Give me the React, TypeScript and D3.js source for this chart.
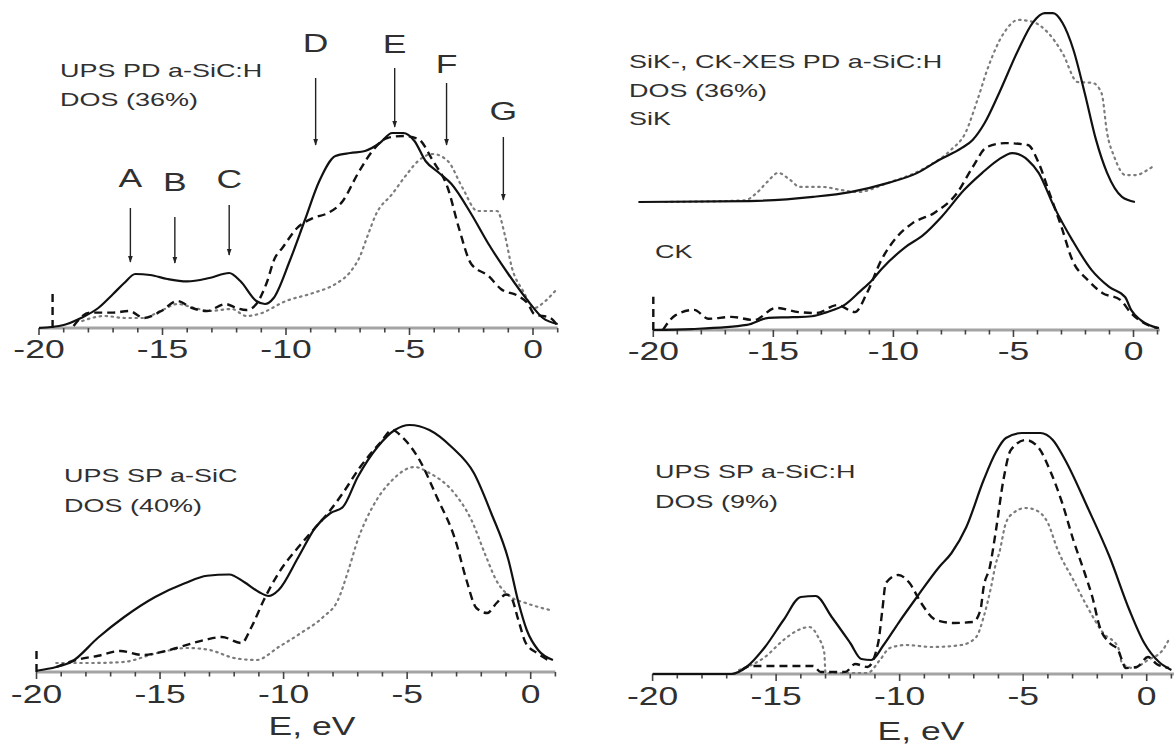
import React from 'react';
import * as d3 from 'd3';

type Pt = [number, number];

// ---------- shared axis data ----------
const tickLabels = [-20, -15, -10, -5, 0];
const minorTicks = d3.range(-20, 2, 1);

// ---------- Panel 1: UPS PD a-SiC:H ----------
const p1Solid: Pt[] = [[-20,0],[-19.0,1.5],[-18.3,5],[-17.6,10],[-17.0,17],[-16.55,22.5],[-16.1,27],[-15.5,26.5],[-14.8,24.5],[-14.0,23.3],[-13.1,25],[-12.3,27.5],[-11.85,23.5],[-11.2,13.5],[-10.85,12],[-10.5,15],[-9.85,33.5],[-9.25,53.5],[-8.65,73.5],[-8.0,86],[-7.4,87.5],[-6.8,88.5],[-6.2,92.5],[-5.7,97.5],[-5.25,97.5],[-4.8,93.5],[-4.35,83.5],[-3.8,77.5],[-3.3,72],[-2.5,57],[-1.8,42],[-1.0,27],[-0.2,13.5],[0.4,5],[1.0,2]];
const p1Dashed: Pt[] = [[-18.6,1],[-17.95,7.7],[-17.0,7.7],[-16.35,8.5],[-15.75,5],[-15.05,8.5],[-14.4,13.5],[-13.8,10],[-13.2,8.5],[-12.45,12],[-12.0,10],[-11.6,9],[-11.2,12],[-10.8,22],[-10.45,35],[-10.15,40],[-9.55,50],[-8.9,55],[-8.3,57.5],[-7.7,63.5],[-7.1,77],[-6.5,88.5],[-5.9,95],[-5.25,96],[-4.65,94.5],[-4.05,83.5],[-3.45,70],[-3.0,50],[-2.5,32],[-1.8,26],[-1.3,19.5],[-0.6,16],[-0.2,12],[0.05,7],[0.7,5],[1.0,1]];
const p1DashedSpike: Pt[] = [[-19.45,0],[-19.45,18]];
const p1Dotted: Pt[] = [[-18.25,3.5],[-17.35,6],[-16.5,5],[-15.8,5],[-15.0,9],[-14.4,12],[-13.7,10],[-13.1,8.5],[-12.2,9.5],[-11.6,6],[-11.1,7],[-10.0,13.5],[-8.9,17.5],[-8.0,22],[-7.4,28],[-7.0,36],[-6.7,46],[-6.35,57],[-5.7,67],[-5.1,77],[-4.65,83.5],[-4.05,87],[-3.45,83.5],[-2.85,70],[-2.25,58.5],[-1.45,58.5],[-1.15,47],[-0.85,30],[-0.4,18.5],[0.05,10],[0.5,13.5],[1.0,20]];
const p1Peaks = [
  { label: 'A', e: -16.3, from: 60, to: 33, text: 70.5 },
  { label: 'B', e: -14.5, from: 55.5, to: 32.5, text: 68.5 },
  { label: 'C', e: -12.3, from: 61.5, to: 36.5, text: 70 },
  { label: 'D', e: -8.8, from: 125, to: 91.5, text: 138 },
  { label: 'E', e: -5.6, from: 130, to: 100.5, text: 137.5 },
  { label: 'F', e: -3.5, from: 122.5, to: 91.5, text: 127.5 },
  { label: 'G', e: -1.2, from: 95.5, to: 64, text: 104 },
];

// ---------- Panel 2: SiK / CK XES ----------
const SIK_OFFSET = 40;
const p2SiKSolid: Pt[] = [[-20.62,0],[-16.0,0.3],[-13.35,1.6],[-11.8,3.1],[-10.25,5.9],[-9.0,9.1],[-8.1,13.1],[-7.15,16.9],[-6.7,19.4],[-6.2,24.7],[-5.6,34],[-4.8,47.5],[-4.2,56],[-3.7,59],[-3.35,59],[-2.96,56],[-2.5,47.5],[-2.03,34],[-1.56,19.4],[-1.1,9.1],[-0.48,1.6],[0.06,0]];
const p2SiKDotted: Pt[] = [[-19.5,0],[-16.2,0.5],[-15.7,2.8],[-15.25,6.3],[-14.8,9.1],[-14.3,6.9],[-13.9,4.7],[-12.95,4.7],[-12.2,3.8],[-11.5,3.1],[-10.25,5.9],[-8.7,10.6],[-7.6,16.3],[-7.0,21.6],[-6.5,31.9],[-6.05,42.2],[-5.4,52.8],[-4.8,56.9],[-4.2,56.3],[-3.55,52.8],[-2.96,46.6],[-2.33,37.5],[-1.7,37.2],[-1.33,34],[-1.1,21.6],[-0.8,14.1],[-0.33,8.4],[0.1,8.4],[0.58,10],[0.9,11.6]];
const p2CKSolid: Pt[] = [[-20,0],[-18.4,0.3],[-16.1,1.6],[-15.2,3.8],[-14.2,4],[-13.4,4.3],[-12.8,5.5],[-12.0,8],[-11.4,12],[-10.9,15.5],[-10.5,19],[-9.5,25.9],[-8.75,29.7],[-8.0,35.3],[-7.05,43.8],[-6.3,49.1],[-5.65,53.1],[-5.05,55.3],[-4.4,53.1],[-3.95,49.1],[-3.3,38.4],[-2.55,28.1],[-1.75,18.8],[-1.0,13.4],[-0.35,10.3],[-0.1,6.3],[0.3,3.1],[1.06,0.6]];
const p2CKDashed: Pt[] = [[-19.6,0],[-19.1,4.5],[-18.3,6.3],[-17.7,3.5],[-16.75,4.1],[-15.8,3.1],[-14.9,6.9],[-13.95,5.6],[-13.2,5.3],[-12.35,7.8],[-11.6,5.6],[-11.1,11.6],[-10.5,21.9],[-9.85,29.1],[-9.2,33.4],[-8.3,36.6],[-7.35,42.8],[-6.7,50.9],[-6.1,57.2],[-5.35,58.4],[-4.4,57.8],[-3.95,52.2],[-3.5,42.8],[-3.0,32.2],[-2.55,21.9],[-1.9,15.6],[-1.3,11.6],[-0.55,9.4],[-0.1,5.3],[0.36,2.5],[1.0,0.6]];
const p2CKDashedSpike: Pt[] = [[-20,0],[-20,10.4]];

// ---------- Panel 3: UPS SP a-SiC ----------
const p3Solid: Pt[] = [[-20,0.5],[-19.2,2],[-18.58,4.1],[-17.5,13.8],[-16.45,22],[-15.2,30],[-14.0,35.5],[-13.1,38.5],[-12.2,39],[-11.6,36],[-11.0,32],[-10.6,30.4],[-10.2,32.8],[-9.4,46],[-8.7,58],[-8.1,63.6],[-7.6,66],[-7.0,78],[-6.2,90],[-5.5,96.8],[-4.9,98.8],[-4.1,96.8],[-3.2,90],[-2.3,79.6],[-1.6,63.6],[-0.9,44.8],[-0.5,28],[-0.16,16.8],[0.3,8.8],[0.9,4.8]];
const p3Dashed: Pt[] = [[-19.2,2],[-18.4,4.8],[-17.5,6.5],[-16.6,8.4],[-15.7,6.8],[-14.9,8.1],[-14.2,10],[-13.2,12.8],[-12.5,14],[-11.7,11.6],[-11.3,18],[-10.8,28.8],[-10.2,39.6],[-9.4,50],[-8.8,56.8],[-8.2,63.6],[-7.6,71.6],[-6.9,82],[-6.1,91.6],[-5.6,96.8],[-5.2,94],[-4.5,84.8],[-3.8,70],[-3.05,52.8],[-2.6,36.8],[-2.2,25.6],[-1.76,23.6],[-1.38,27.6],[-1.0,31],[-0.8,30],[-0.5,20.8],[-0.2,11.6],[0.25,7.6],[0.7,4.8]];
const p3DashedSpike: Pt[] = [[-20,0],[-20,9.6]];
const p3Dotted: Pt[] = [[-19.2,3.6],[-17.7,3.6],[-16.5,4],[-15.1,7.6],[-13.9,9.6],[-13.0,8.8],[-12.0,5.6],[-11.1,4.8],[-10.2,10],[-9.3,15.6],[-8.4,22],[-7.8,28.8],[-7.4,40],[-7.0,52.8],[-6.4,66],[-5.6,76.8],[-4.7,82],[-4.1,79.6],[-3.2,72.8],[-2.4,60.8],[-1.8,46],[-1.4,36.8],[-0.8,30],[-0.2,27.6],[0.45,25.6],[0.9,24.5]];

// ---------- Panel 4: UPS SP a-SiC:H ----------
const p4Solid: Pt[] = [[-20,0],[-16.8,0],[-16.2,2.8],[-15.45,10.8],[-14.7,21.6],[-14.0,30.8],[-13.4,31.2],[-12.75,22.8],[-12.0,12.4],[-11.55,6],[-11.15,5.6],[-10.65,11.6],[-10.05,20.4],[-9.3,30.8],[-8.4,42.8],[-7.9,48.4],[-7.3,58.8],[-6.6,77.6],[-6.1,88.8],[-5.7,94.4],[-5.05,96.4],[-4.3,96.4],[-3.8,93.6],[-3.3,85.6],[-2.4,66.8],[-1.5,46.8],[-0.7,25.6],[-0.1,12.4],[0.5,4.8],[1.0,1.6]];
const p4Dashed: Pt[] = [[-16.4,1.5],[-16.05,3.2],[-13.5,3.2],[-13.2,0.8],[-12.2,0.8],[-11.8,4],[-11.3,2.8],[-10.87,12.4],[-10.7,25.6],[-10.56,36.4],[-10.05,39.6],[-9.6,36.4],[-9.13,28.4],[-8.53,21.6],[-7.8,20.4],[-7.03,20.8],[-6.73,25.6],[-6.6,34.8],[-6.35,42.8],[-6.1,57.6],[-5.8,77.6],[-5.5,89.6],[-4.9,93.6],[-4.4,90.8],[-3.87,80.4],[-3.42,68.4],[-2.97,53.6],[-2.51,40.4],[-2.2,30.8],[-1.9,18.8],[-1.5,12.4],[-1.16,9.6],[-1.0,5.6],[-0.86,2.4],[-0.4,2.8],[0.05,6.8],[0.4,4],[0.9,2.4]];
const p4Dotted: Pt[] = [[-16.5,1.6],[-15.45,6.8],[-14.7,13.6],[-14.1,17.6],[-13.65,18.8],[-13.3,14.8],[-13.05,8.4],[-13.0,0.4],[-11.3,0.4],[-10.8,5.6],[-10.4,10.4],[-9.74,11.6],[-8.7,10.8],[-7.5,11.6],[-6.9,14.8],[-6.6,22.8],[-6.3,34.8],[-6.1,44.4],[-5.97,48.4],[-5.7,60.4],[-5.4,64.4],[-4.9,66.4],[-4.5,65.6],[-4.0,60.4],[-3.6,49.6],[-2.97,37.6],[-2.4,26.8],[-1.76,16.4],[-1.16,10.8],[-1.0,4.4],[-0.55,2.4],[0.05,5.6],[0.65,9.6],[0.95,14.8]];

// ---------- layout ----------
const W = 1174, H = 745;
const FONT = 'Liberation Sans, Arial, Helvetica, sans-serif';
const TXT = '#303030';
const SX = 1.42;

interface Layout { px0: number; px1: number; base: number; top: number; axisEnd: number; labelY: number; }
const L1: Layout = { px0: 39, px1: 533, base: 328, top: 128, axisEnd: 1.0, labelY: 358 };
const L2: Layout = { px0: 653.3, px1: 1133.5, base: 330, top: 10, axisEnd: 1.1, labelY: 360 };
const L3: Layout = { px0: 36.5, px1: 530.7, base: 672, top: 422, axisEnd: 1.0, labelY: 703 };
const L4: Layout = { px0: 652.6, px1: 1146.7, base: 674, top: 424, axisEnd: 1.12, labelY: 705 };

const scales = (l: Layout) => ({
  x: d3.scaleLinear().domain([-20, 0]).range([l.px0, l.px1]),
  y: d3.scaleLinear().domain([0, 100]).range([l.base, l.top]),
});

const STYLE = {
  solid: { stroke: '#111', strokeWidth: 2.2 },
  dashed: { stroke: '#111', strokeWidth: 2.4, strokeDasharray: '8,5' },
  dotted: { stroke: '#7c7c7c', strokeWidth: 2.2, strokeDasharray: '1.5,4.5', strokeLinecap: 'round' as const },
};

function Curve({ data, sc, kind, offset = 0, linear = false }: { data: Pt[]; sc: any; kind: keyof typeof STYLE; offset?: number; linear?: boolean }) {
  const gen = d3.line<Pt>()
    .x(d => sc.x(d[0]))
    .y(d => sc.y(d[1] + offset))
    .curve(linear ? d3.curveLinear : d3.curveMonotoneX);
  return <path d={gen(data) || ''} fill="none" {...STYLE[kind]} />;
}

function Txt({ x, y, s, size = 19, anchor = 'start' }: { x: number; y: number; s: string; size?: number; anchor?: string }) {
  return (
    <text transform={`translate(${x},${y}) scale(${SX},1)`} fontSize={size} fontFamily={FONT} fill={TXT} textAnchor={anchor as any}>{s}</text>
  );
}

function Axis({ l }: { l: Layout }) {
  const { x } = scales(l);
  return (
    <g>
      <line x1={x(-20)} x2={x(l.axisEnd)} y1={l.base} y2={l.base} stroke="#a4a4a4" strokeWidth={3} />
      {minorTicks.map(t => (
        <line key={t} x1={x(t)} x2={x(t)} y1={l.base} y2={l.base + (t % 5 === 0 ? 7 : 4.5)} stroke="#444" strokeWidth={1.6} />
      ))}
      {tickLabels.map(t => (
        <Txt key={t} x={x(t)} y={l.labelY} s={String(t)} size={25} anchor="middle" />
      ))}
    </g>
  );
}

export default function App() {
  const s1 = scales(L1), s2 = scales(L2), s3 = scales(L3), s4 = scales(L4);
  return (
    <svg width={W} height={H} viewBox={`0 0 ${W} ${H}`} style={{ position: 'absolute', left: 0, top: 0, background: '#fff' }}>
      <defs>
        <marker id="ah" viewBox="0 0 10 10" refX="9" refY="5" markerWidth="5" markerHeight="7" markerUnits="strokeWidth" orient="auto">
          <path d="M0,1.5 L10,5 L0,8.5 Z" fill="#222" />
        </marker>
      </defs>
      <rect x={0} y={0} width={W} height={H} fill="#fff" />

      {/* Panel 1 */}
      <Axis l={L1} />
      <Curve data={p1Dotted} sc={s1} kind="dotted" />
      <Curve data={p1Dashed} sc={s1} kind="dashed" />
      <Curve data={p1DashedSpike} sc={s1} kind="dashed" linear />
      <Curve data={p1Solid} sc={s1} kind="solid" />
      {p1Peaks.map(p => (
        <g key={p.label}>
          <line x1={s1.x(p.e)} x2={s1.x(p.e)} y1={s1.y(p.from)} y2={s1.y(p.to)} stroke="#222" strokeWidth={1.4} markerEnd="url(#ah)" />
          <Txt x={s1.x(p.e)} y={s1.y(p.text)} s={p.label} size={25} anchor="middle" />
        </g>
      ))}
      <Txt x={60} y={77} s="UPS PD a-SiC:H" />
      <Txt x={60} y={106} s="DOS (36%)" />

      {/* Panel 2 */}
      <Axis l={L2} />
      <Curve data={p2SiKDotted} sc={s2} kind="dotted" offset={SIK_OFFSET} />
      <Curve data={p2SiKSolid} sc={s2} kind="solid" offset={SIK_OFFSET} />
      <Curve data={p2CKDashed} sc={s2} kind="dashed" />
      <Curve data={p2CKDashedSpike} sc={s2} kind="dashed" linear />
      <Curve data={p2CKSolid} sc={s2} kind="solid" />
      <Txt x={629} y={68} s="SiK-, CK-XES PD a-SiC:H" />
      <Txt x={629} y={97} s="DOS (36%)" />
      <Txt x={629} y={125} s="SiK" />
      <Txt x={655} y={258} s="CK" />

      {/* Panel 3 */}
      <Axis l={L3} />
      <Curve data={p3Dotted} sc={s3} kind="dotted" />
      <Curve data={p3Dashed} sc={s3} kind="dashed" />
      <Curve data={p3DashedSpike} sc={s3} kind="dashed" linear />
      <Curve data={p3Solid} sc={s3} kind="solid" />
      <Txt x={64} y={482} s="UPS SP a-SiC" />
      <Txt x={64} y={512} s="DOS (40%)" />
      <Txt x={312} y={735} s="E, eV" size={25} anchor="middle" />

      {/* Panel 4 */}
      <Axis l={L4} />
      <Curve data={p4Dotted} sc={s4} kind="dotted" />
      <Curve data={p4Dashed} sc={s4} kind="dashed" />
      <Curve data={p4Solid} sc={s4} kind="solid" />
      <Txt x={655} y={478} s="UPS SP a-SiC:H" />
      <Txt x={655} y={508} s="DOS (9%)" />
      <Txt x={921} y={740} s="E, eV" size={25} anchor="middle" />
    </svg>
  );
}
